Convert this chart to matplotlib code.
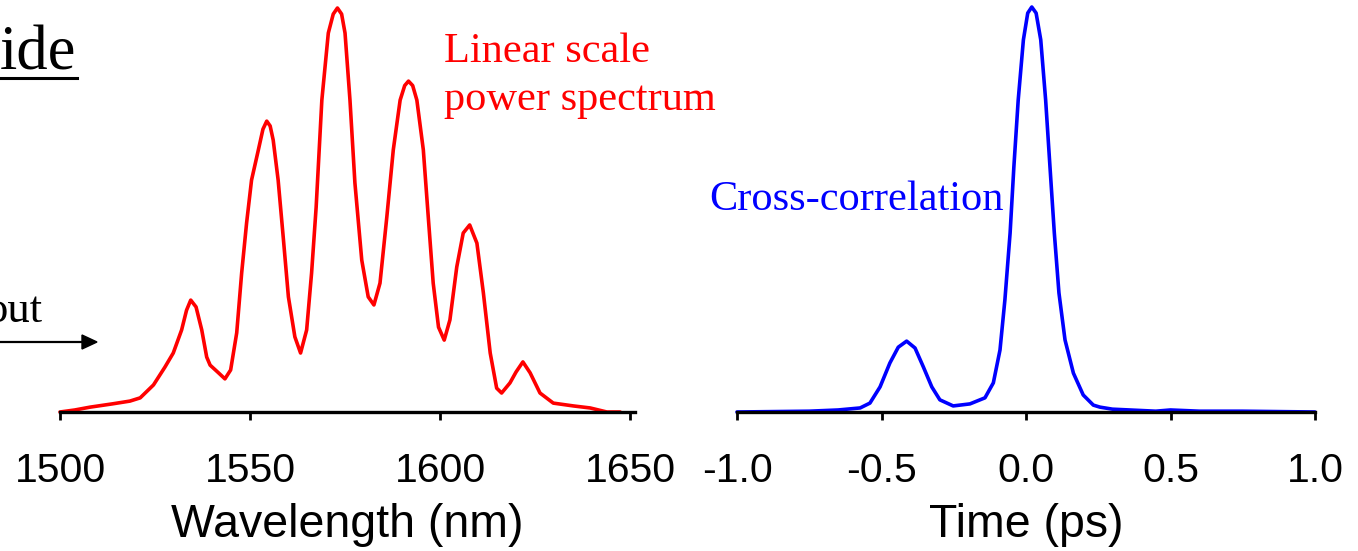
import matplotlib
matplotlib.use("Agg")
import matplotlib.pyplot as plt

# ---- data ----
wavelength_nm = [1500.0, 1503.9, 1507.9, 1513.7, 1518.4, 1521.1, 1524.6, 1527.6, 1529.8, 1532.0,
                 1533.3, 1534.4, 1535.8, 1537.3, 1538.6, 1539.5, 1541.7, 1543.4, 1544.9, 1546.5,
                 1547.8, 1549.1, 1550.4, 1552.2, 1553.4, 1554.4, 1555.3, 1556.1, 1557.4, 1558.8,
                 1560.1, 1561.8, 1563.3, 1564.9, 1566.2, 1567.4, 1568.9, 1570.6, 1571.9, 1573.0,
                 1574.1, 1575.0, 1576.3, 1577.6, 1579.4, 1581.1, 1582.6, 1584.2, 1586.0, 1587.7,
                 1589.5, 1590.7, 1591.7, 1592.8, 1593.9, 1595.6, 1596.9, 1598.2, 1599.6, 1601.1,
                 1602.6, 1604.4, 1606.1, 1607.8, 1609.7, 1611.4, 1613.2, 1614.9, 1616.2, 1618.4,
                 1620.0, 1621.8, 1623.7, 1626.3, 1629.8, 1635.1, 1639.5, 1643.9, 1647.4]
spectrum = [0.000, 0.005, 0.012, 0.020, 0.027, 0.035, 0.067, 0.111, 0.146, 0.203,
            0.252, 0.277, 0.260, 0.203, 0.136, 0.116, 0.097, 0.082, 0.104, 0.196,
            0.344, 0.468, 0.574, 0.649, 0.700, 0.720, 0.708, 0.673, 0.574, 0.426,
            0.285, 0.186, 0.146, 0.203, 0.344, 0.507, 0.772, 0.938, 0.985, 1.000,
            0.985, 0.938, 0.772, 0.567, 0.376, 0.285, 0.265, 0.319, 0.483, 0.649,
            0.772, 0.808, 0.819, 0.808, 0.772, 0.649, 0.483, 0.319, 0.210, 0.178,
            0.228, 0.359, 0.443, 0.463, 0.418, 0.295, 0.146, 0.059, 0.047, 0.072,
            0.099, 0.124, 0.097, 0.047, 0.022, 0.015, 0.010, 0.000, 0.000]

time_ps = [-1.0, -0.75, -0.65, -0.574, -0.540, -0.505, -0.471, -0.442, -0.413, -0.384,
           -0.355, -0.326, -0.298, -0.252, -0.194, -0.142, -0.113, -0.090, -0.073, -0.055,
           -0.042, -0.027, -0.009, 0.006, 0.020, 0.035, 0.051, 0.068, 0.083, 0.098,
           0.114, 0.135, 0.164, 0.198, 0.233, 0.256, 0.299, 0.449, 0.5, 0.6,
           0.748, 1.0]
xcorr = [0.000, 0.002, 0.005, 0.010, 0.022, 0.062, 0.121, 0.160, 0.175, 0.158,
         0.111, 0.062, 0.030, 0.015, 0.020, 0.035, 0.072, 0.153, 0.277, 0.442,
         0.605, 0.770, 0.919, 0.985, 1.000, 0.985, 0.919, 0.770, 0.605, 0.442,
         0.294, 0.178, 0.096, 0.042, 0.017, 0.012, 0.007, 0.002, 0.005, 0.002,
         0.002, 0.000]

wl_ticks = [1500, 1550, 1600, 1650]
t_ticks = [-1.0, -0.5, 0.0, 0.5, 1.0]
t_ticklabels = ["-1.0", "-0.5", "0.0", "0.5", "1.0"]

W, H = 1358, 551
fig = plt.figure(figsize=(W / 100, H / 100), dpi=100)

def fx(px):
    return px / W

def fy(py):
    return 1 - py / H

serif = ["Liberation Serif", "DejaVu Serif"]
sans = ["Liberation Sans", "DejaVu Sans"]

def style_axes(ax):
    for s in ["left", "right", "top"]:
        ax.spines[s].set_visible(False)
    ax.spines["bottom"].set_linewidth(2.4)
    ax.set_yticks([])
    ax.tick_params(axis="x", direction="out", length=6, width=2, pad=23,
                   labelsize=29.5)
    for lab in ax.get_xticklabels():
        lab.set_fontfamily(sans)
    ax.patch.set_alpha(0)

# left axes: spectrum
ax1 = fig.add_axes([fx(60), fy(412), fx(575), (412 - 5) / H])
ax1.plot(wavelength_nm, spectrum, color="#ff0000", lw=2.6, clip_on=False,
         solid_joinstyle="round", solid_capstyle="round")
ax1.set_xlim(1500, 1651.3)
ax1.set_ylim(0, 407 / 404)
ax1.set_xticks(wl_ticks)
ax1.set_xticklabels([str(v) for v in wl_ticks])
style_axes(ax1)
ax1.set_xlabel("Wavelength (nm)", fontsize=33.5, family=sans, labelpad=9)

# right axes: cross-correlation
ax2 = fig.add_axes([fx(737), fy(412), fx(578), (412 - 5) / H])
ax2.plot(time_ps, xcorr, color="#0000ff", lw=2.6, clip_on=False,
         solid_joinstyle="round", solid_capstyle="round")
ax2.set_xlim(-1.0, 1.0)
ax2.set_ylim(0, 407 / 405)
ax2.set_xticks(t_ticks)
ax2.set_xticklabels(t_ticklabels)
style_axes(ax2)
ax2.set_xlabel("Time (ps)", fontsize=33.5, family=sans, labelpad=9)

# annotations
fig.text(fx(0), fy(69), "ide", fontsize=45, family=serif, color="black",
         ha="left", va="baseline")
fig.add_artist(plt.Line2D([fx(0), fx(77)], [fy(78), fy(78)], color="black",
                          lw=2.2, transform=fig.transFigure))
fig.text(fx(42), fy(322), "out", fontsize=32, family=serif, color="black",
         ha="right", va="baseline")
fig.add_artist(plt.Line2D([fx(0), fx(84)], [fy(342), fy(342)], color="black",
                          lw=1.6, transform=fig.transFigure))
fig.add_artist(plt.Polygon([[fx(82), fy(335)], [fx(97), fy(342)], [fx(82), fy(349)]],
                           closed=True, color="black", transform=fig.transFigure))
fig.text(fx(444), fy(62), "Linear scale", fontsize=30.5, family=serif,
         color="#ff0000", ha="left", va="baseline")
fig.text(fx(444), fy(110), "power spectrum", fontsize=30.5, family=serif,
         color="#ff0000", ha="left", va="baseline")
fig.text(fx(709), fy(210), "Cross-correlation", fontsize=30.5, family=serif,
         color="#0000ff", ha="left", va="baseline")

fig.savefig("out.png", dpi=100)
